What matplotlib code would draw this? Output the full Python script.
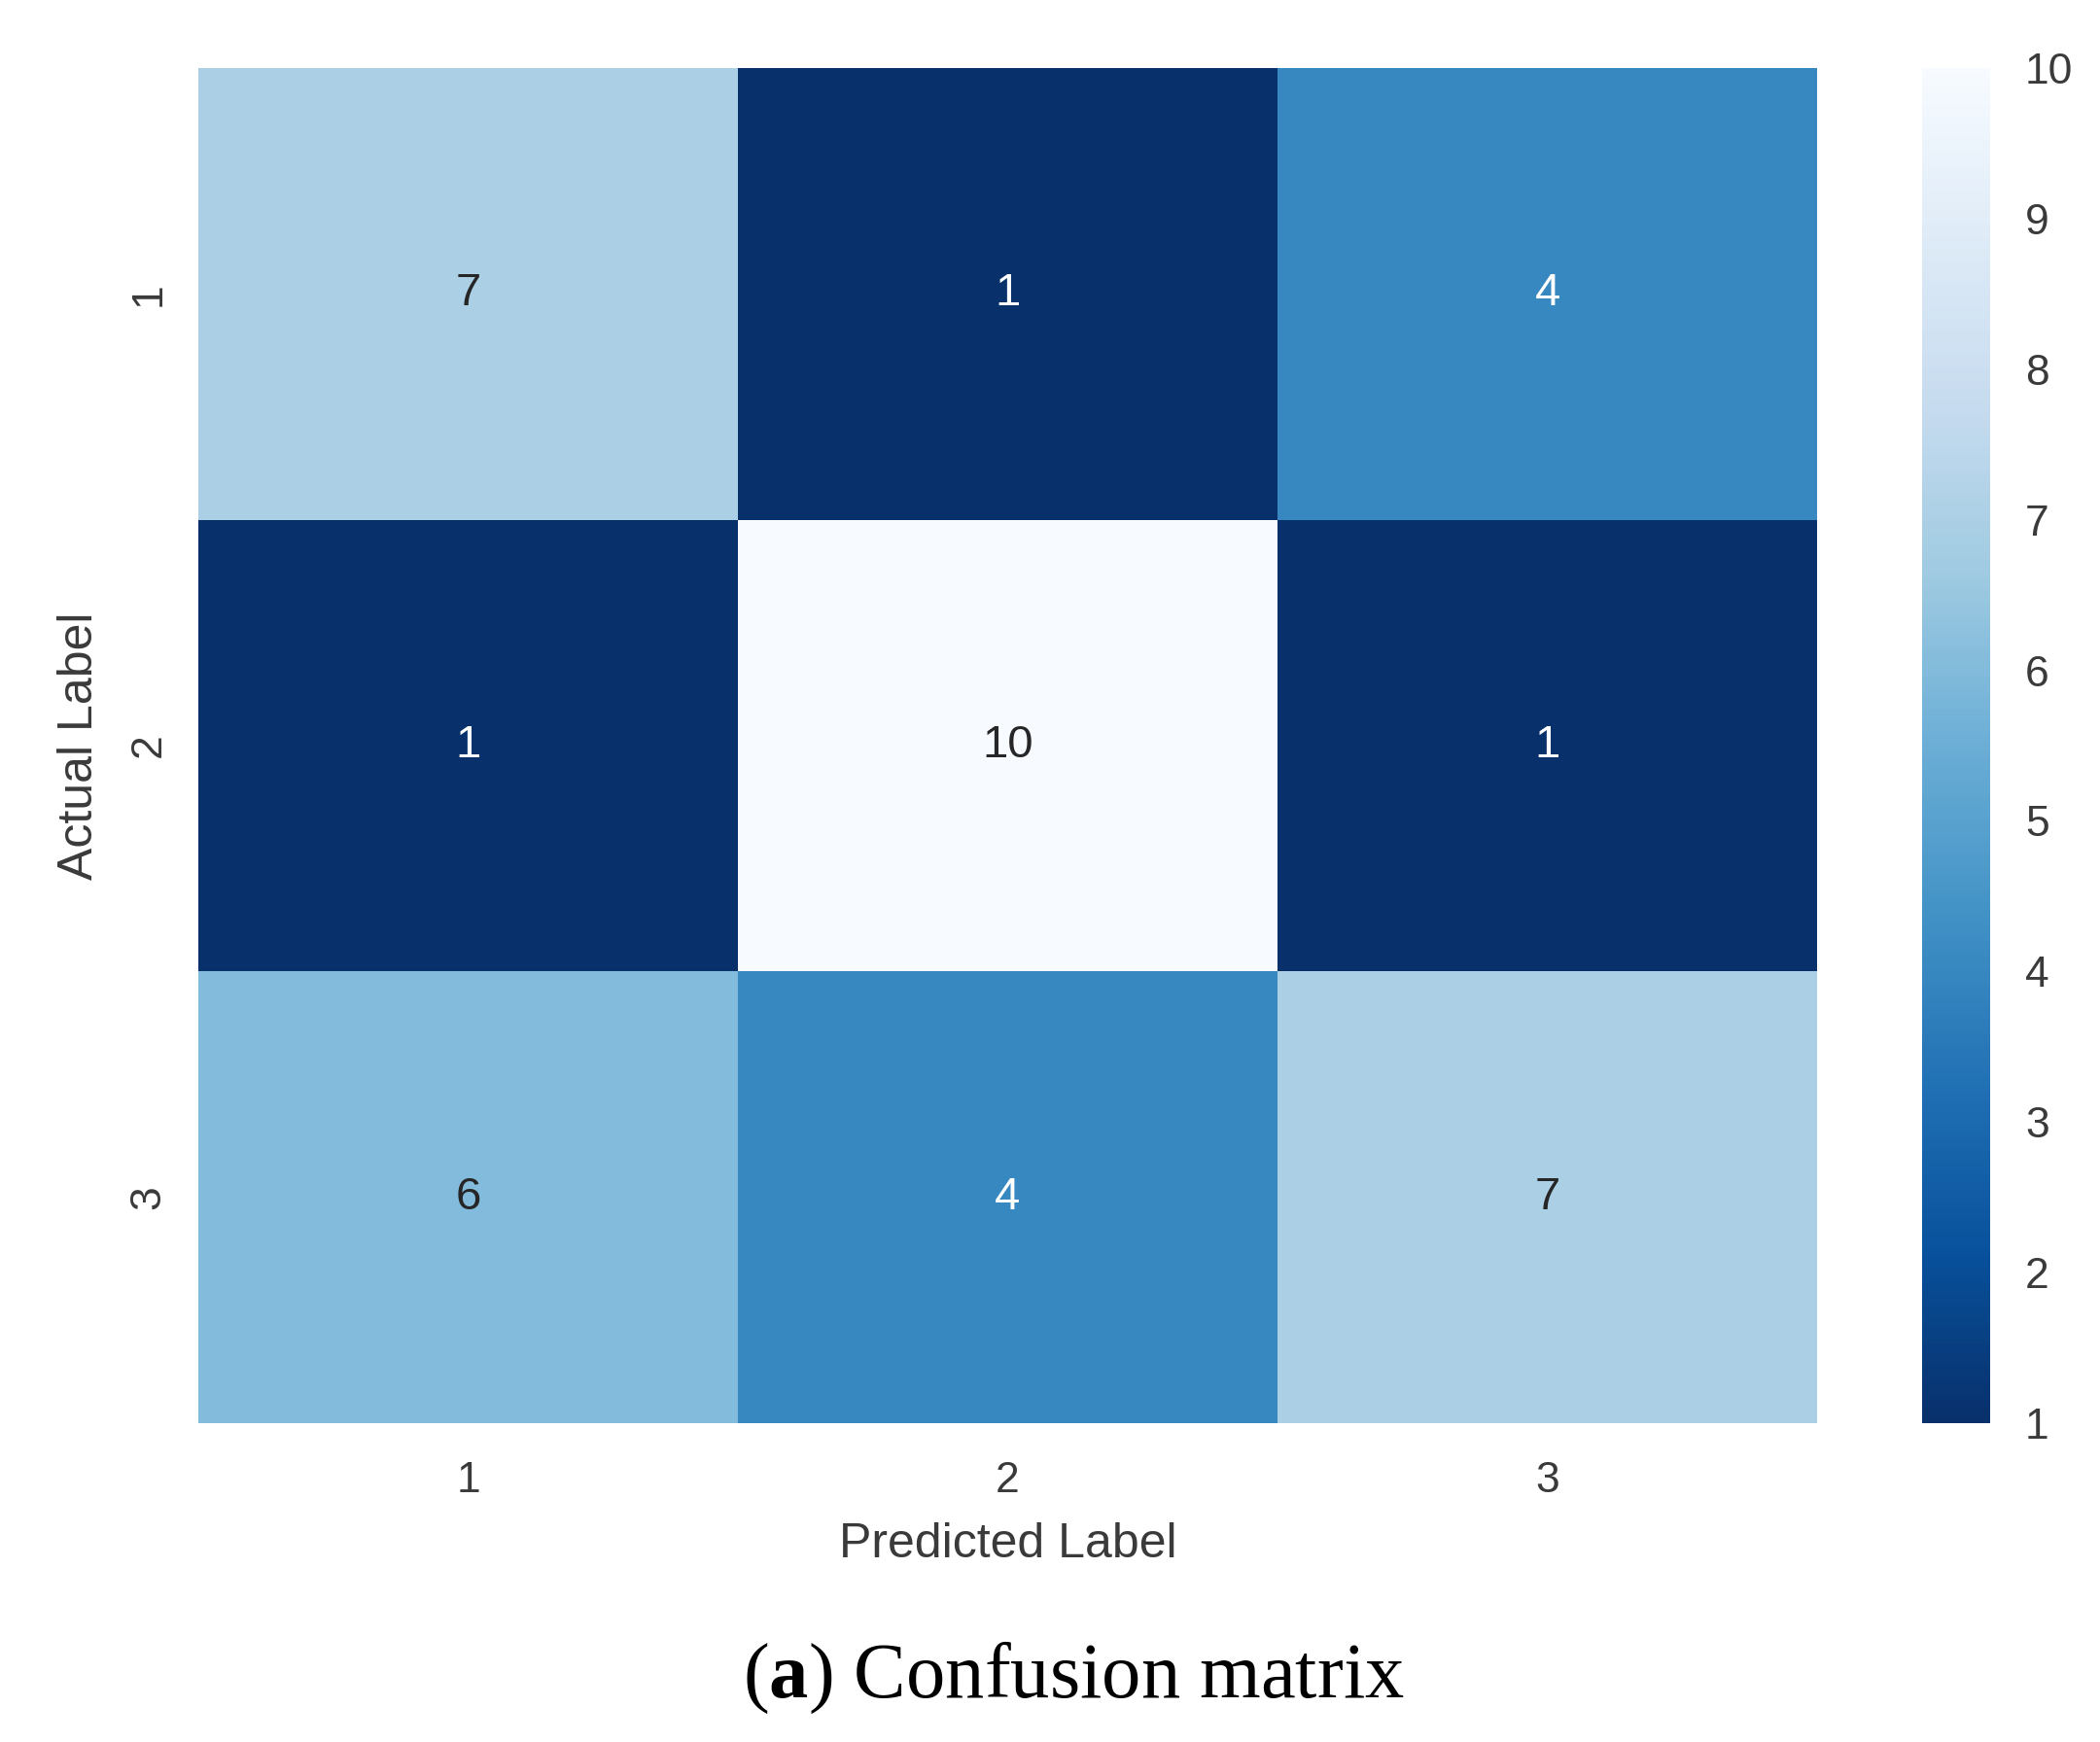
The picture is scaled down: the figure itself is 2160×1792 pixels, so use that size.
import numpy as np
import matplotlib
matplotlib.use("Agg")
import matplotlib.pyplot as plt
import seaborn as sns

# confusion matrix values (rows = actual, cols = predicted)
labels = ["1", "2", "3"]
cm = np.array([[7, 1, 4],
               [1, 10, 1],
               [6, 4, 7]])
cbar_ticks = [1, 2, 3, 4, 5, 6, 7, 8, 9, 10]

plt.rcParams['font.family'] = ['Liberation Sans', 'DejaVu Sans']
plt.rcParams['mathtext.fontset'] = 'custom'
plt.rcParams['mathtext.rm'] = 'Liberation Serif'
plt.rcParams['mathtext.bf'] = 'Liberation Serif:bold'

W, H = 2160, 1792
fig = plt.figure(figsize=(W / 200, H / 200), dpi=200)
ax = fig.add_axes([204 / W, 1 - 1464 / H, (1869 - 204) / W, (1464 - 70) / H])
cax = fig.add_axes([1977 / W, 1 - 1464 / H, (2047 - 1977) / W, (1464 - 70) / H])

sns.heatmap(cm, ax=ax, cbar_ax=cax, cmap="Blues_r", annot=True, fmt="d",
            vmin=cm.min(), vmax=cm.max(), annot_kws={"size": 17},
            xticklabels=labels, yticklabels=labels)

txt = "#3a3a3a"
ax.tick_params(axis="x", length=0, labelsize=16, labelcolor=txt, pad=14)
ax.tick_params(axis="y", length=0, labelsize=16, labelcolor=txt, pad=11)
ax.set_yticklabels(labels, rotation=90, va="center")
ax.set_xlabel("Predicted Label", fontsize=18, color=txt, labelpad=8)
ax.set_ylabel("Actual Label", fontsize=18, color=txt, labelpad=10)

cax.set_yticks(cbar_ticks)
cax.tick_params(length=0, labelsize=16, labelcolor=txt, pad=13)
for s in cax.spines.values():
    s.set_visible(False)

fig.text(1104 / W, 1 - 1726 / H, r"($\mathbf{a}$) Confusion matrix",
         fontsize=29, family="Liberation Serif", ha="center", va="center")

fig.savefig("out.png", dpi=200, facecolor="white")
